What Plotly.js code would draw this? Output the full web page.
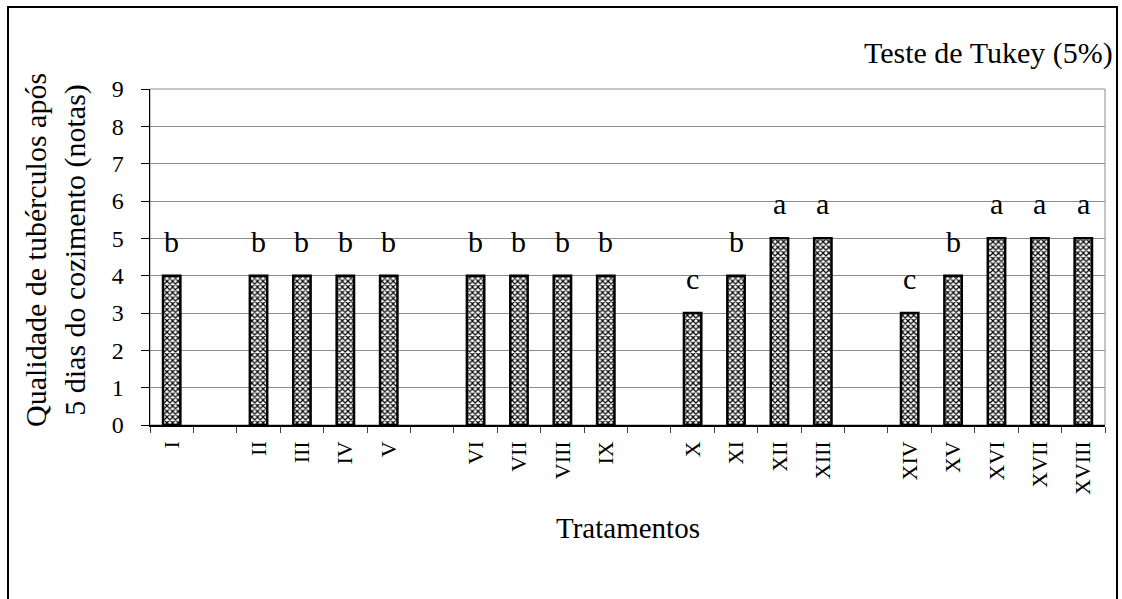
<!DOCTYPE html>
<html>
<head>
<meta charset="utf-8">
<script src="https://cdn.plot.ly/plotly-3.0.1.min.js"></script>
<style>
  html, body { margin: 0; padding: 0; background: #ffffff; }
  #chart { width: 1122px; height: 599px; }
</style>
</head>
<body>
<div id="chart"></div>
<script>
// Treatments, in the order they appear along the axis
const treatments = ['I', 'II', 'III', 'IV', 'V', 'VI', 'VII', 'VIII', 'IX',
                    'X', 'XI', 'XII', 'XIII', 'XIV', 'XV', 'XVI', 'XVII', 'XVIII'];
// Quality score (notas) after 5 days of cooking
const scores = [4, 4, 4, 4, 4, 4, 4, 4, 4,
                3, 4, 5, 5, 3, 4, 5, 5, 5];
// Tukey (5%) grouping letters
const letters = ['b', 'b', 'b', 'b', 'b', 'b', 'b', 'b', 'b',
                 'c', 'b', 'a', 'a', 'c', 'b', 'a', 'a', 'a'];
// Size of each treatment group; an empty slot separates consecutive groups
const groupSizes = [1, 4, 4, 4, 5];

const yTicks = [0, 1, 2, 3, 4, 5, 6, 7, 8, 9];

// Category order with blank spacer slots between groups
const categoryOrder = [];
let k = 0;
groupSizes.forEach((n, g) => {
  for (let i = 0; i < n; i++) categoryOrder.push(treatments[k++]);
  if (g < groupSizes.length - 1) categoryOrder.push(' '.repeat(g + 1));
});

const SERIF = '"Liberation Serif", serif';

const W = 1122, H = 599;
const M = { l: 150, r: 17, t: 89, b: 174 };
const plotW = W - M.l - M.r;
const plotH = H - M.t - M.b;
const px2x = px => (px - M.l) / plotW;
const px2y = py => (H - M.b - py) / plotH;

const bars = {
  type: 'bar',
  x: treatments,
  y: scores,
  marker: {
    color: '#ffffff',
    line: { color: '#000000', width: 2.5 },
    pattern: { shape: 'x', size: 4, solidity: 0.5, fgcolor: '#000000', bgcolor: '#ffffff' }
  },
  hoverinfo: 'x+y',
  showlegend: false
};

const letterNotes = treatments.map((t, i) => ({
  x: t, y: scores[i], xref: 'x', yref: 'y',
  text: letters[i], showarrow: false,
  xanchor: 'center', yanchor: 'bottom', yshift: 16,
  font: { family: SERIF, size: 30, color: '#000000' }
}));

const layout = {
  width: W, height: H,
  margin: M,
  paper_bgcolor: '#ffffff',
  plot_bgcolor: '#ffffff',
  font: { family: SERIF, color: '#000000' },
  bargap: 0.6,
  xaxis: {
    type: 'category',
    categoryorder: 'array',
    categoryarray: categoryOrder,
    range: [-0.5, categoryOrder.length - 0.5],
    showline: true, linecolor: '#000000', linewidth: 1.5,
    ticks: 'outside', tickson: 'boundaries', ticklen: 6, tickcolor: '#404040', tickwidth: 1,
    tickangle: -90,
    tickfont: { family: SERIF, size: 22, color: '#000000' },
    ticklabelstandoff: 6,
    showgrid: false, zeroline: false, fixedrange: true
  },
  yaxis: {
    range: [0, 9],
    tickmode: 'array', tickvals: yTicks, ticktext: yTicks.map(String),
    showline: true, linecolor: '#000000', linewidth: 1.5,
    ticks: 'outside', ticklen: 8, tickcolor: '#000000', tickwidth: 1,
    tickfont: { family: SERIF, size: 24, color: '#000000' },
    ticklabelstandoff: 12,
    showgrid: true, gridcolor: '#8c8c8c', gridwidth: 1,
    zeroline: false, fixedrange: true
  },
  shapes: [
    // plot area frame (top and right edges)
    { type: 'rect', xref: 'paper', yref: 'paper', x0: 0, x1: 1, y0: 0, y1: 1,
      line: { color: '#8c8c8c', width: 1 }, layer: 'below' },
    // outer chart border
    { type: 'rect', xref: 'paper', yref: 'paper',
      x0: px2x(8), x1: px2x(1117), y0: px2y(620), y1: px2y(7),
      line: { color: '#000000', width: 2 }, layer: 'below' }
  ],
  annotations: [
    {
      xref: 'paper', yref: 'paper', x: px2x(55), y: px2y(250),
      text: 'Qualidade de tubérculos após<br>5 dias do cozimento (notas)',
      textangle: -90, showarrow: false, xanchor: 'center', yanchor: 'middle',
      font: { family: SERIF, size: 30, color: '#000000' }
    },
    {
      xref: 'paper', yref: 'paper', x: 0.5, y: px2y(528),
      text: 'Tratamentos', showarrow: false, xanchor: 'center', yanchor: 'middle',
      font: { family: SERIF, size: 29, color: '#000000' }
    },
    {
      xref: 'paper', yref: 'paper', x: px2x(1115), y: px2y(53),
      text: 'Teste de Tukey (5%)', showarrow: false, xanchor: 'right', yanchor: 'middle',
      font: { family: SERIF, size: 30, color: '#000000' }
    }
  ].concat(letterNotes)
};

Plotly.newPlot('chart', [bars], layout, { displayModeBar: false, staticPlot: true });
</script>
</body>
</html>
